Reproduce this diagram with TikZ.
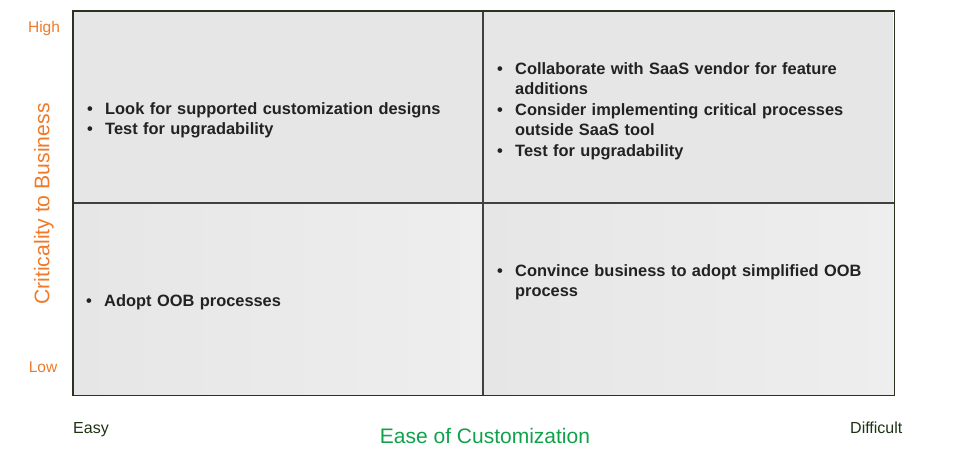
\documentclass[tikz,border=0pt]{standalone}
\usepackage{fontspec}
\setmainfont{Liberation Sans}
\definecolor{axorange}{HTML}{EE7A2A}
\definecolor{axgreen}{HTML}{10A24A}
\definecolor{enddark}{HTML}{1E3214}
\definecolor{cellfill}{HTML}{E6E6E6}
\definecolor{cellfilllt}{HTML}{EEEEEE}
\definecolor{frame}{HTML}{2A3320}
\definecolor{txt}{HTML}{222222}
\newcommand{\qitem}[1]{\par\noindent\makebox[18pt][l]{\strut\textbullet}\parbox[t]{380pt}{\strut#1\strut}}
\begin{document}
\begin{tikzpicture}[x=1pt,y=-1pt,
  cell/.style={draw=none,minimum width=410pt,anchor=north west,inner sep=0pt},
  bodytext/.style={anchor=north west,inner sep=0pt,text=txt,font=\fontsize{16.4}{20}\selectfont\bfseries},
  levlabel/.style={text=axorange,font=\fontsize{15.5}{17}\selectfont,inner sep=0pt},
  endlabel/.style={text=enddark,font=\fontsize{16}{18}\selectfont,inner sep=0pt,anchor=base west}]
\useasboundingbox (0,0) rectangle (962,460);
% cells
\node[cell,minimum height=192pt,fill=cellfill] (tl) at (73,11) {};
\node[cell,minimum height=192pt,fill=cellfill] (tr) at (483,11) {};
\node[cell,minimum height=192pt,left color=cellfill,right color=cellfilllt] (bl) at (73,203) {};
\node[cell,minimum height=192pt,minimum width=411pt,left color=cellfill,right color=cellfilllt] (br) at (483,203) {};
% grid lines
\draw[color=black!75,line width=1.3pt] (tr.north west) -- (br.south west);
\draw[color=black!75,line width=1.3pt] (bl.north west) -- (br.north east);
\draw[color=frame,line width=1.8pt] (tl.north west) rectangle (br.south east);
% texts
\node[bodytext,text width=400pt] (tltext) at (87,94) {%
  \qitem{Look for supported customization designs}
  \qitem{Test for upgradability}};
\node[bodytext,text width=400pt] (trtext) at (497,54) {%
  \qitem{Collaborate with SaaS vendor for feature\\additions}
  \qitem{Consider implementing critical processes\\outside SaaS tool}
  \qitem{Test for upgradability}};
\node[bodytext,text width=400pt] (bltext) at (86,286) {%
  \qitem{Adopt OOB processes}};
\node[bodytext,text width=400pt] (brtext) at (497,256) {%
  \qitem{Convince business to adopt simplified OOB\\process}};
% axis labels
\node[levlabel] (high) at (44,28) {High};
\node[levlabel] (low) at (43,367) {Low};
\node[text=axorange,font=\fontsize{21.2}{22}\selectfont,rotate=90,inner sep=0pt] (crit) at (44,204) {Criticality to Business};
\node[text=axgreen,font=\fontsize{21}{22}\selectfont,inner sep=0pt] (ease) at (485,436) {Ease of Customization};
\node[endlabel] (easy) at (73,433) {Easy};
\node[endlabel] (diff) at (850,433) {Difficult};
\end{tikzpicture}
\end{document}
